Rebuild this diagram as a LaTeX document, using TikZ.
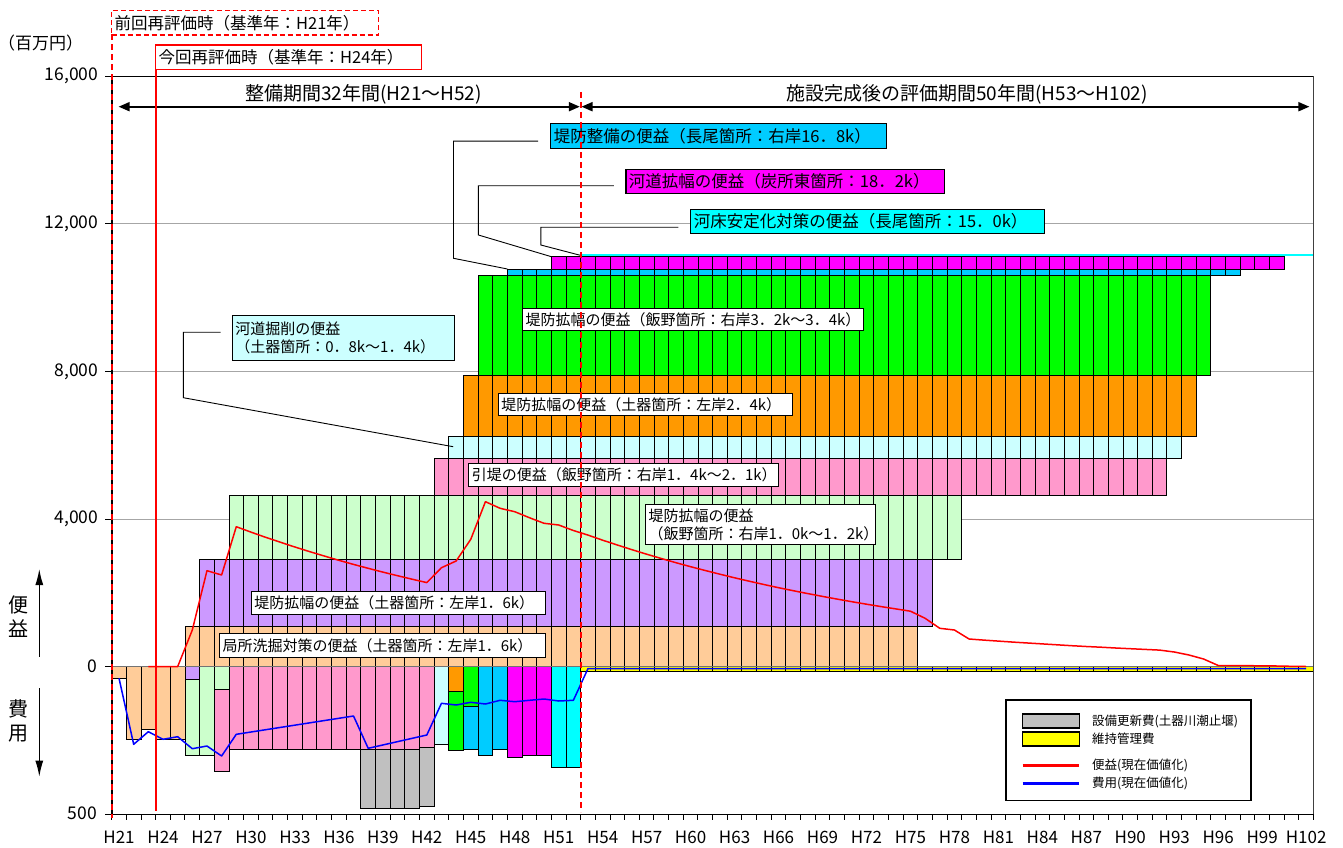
\documentclass[tikz,border=0pt]{standalone}
\usepackage{fontspec}
\setmainfont{Noto Sans CJK JP}
\usepackage{tikz}
\usetikzlibrary{arrows.meta,calc}

\definecolor{peach}{HTML}{FFCC99}
\definecolor{lilac}{HTML}{CC99FF}
\definecolor{lgreen}{HTML}{CCFFCC}
\definecolor{pinkb}{HTML}{FF99CC}
\definecolor{lcyan}{HTML}{CCFFFF}
\definecolor{orangeb}{HTML}{FF9900}
\definecolor{greenb}{HTML}{00FF00}
\definecolor{skyb}{HTML}{00CCFF}
\definecolor{magb}{HTML}{FF00FF}
\definecolor{cyanb}{HTML}{00FFFF}
\definecolor{greyb}{HTML}{C0C0C0}
\definecolor{yellowb}{HTML}{FFFF00}
\definecolor{benefitred}{HTML}{FF0000}
\definecolor{costblue}{HTML}{0000FF}
\definecolor{gridgray}{HTML}{A6A6A6}

% one row of yearly bars (x = year index, H21 = 0)
\newcommand{\barlayer}[5]{%
  \foreach \i in {#2,...,#3}{\filldraw[bar,fill=#1] (\i,#4) rectangle (\i+1,#5);}}

\tikzset{
  years/.style={shift={(111.7,0)}, x=14.656pt},
  bar/.style={draw=black, line width=0.9pt},
  gridline/.style={draw=gridgray, line width=0.9pt},
  axisline/.style={draw=black, line width=1.4pt},
  callout/.style={draw=black, fill=white, line width=1.1pt, anchor=north west,
    inner xsep=3pt, inner ysep=0pt, align=left, font=\fontsize{15}{18}\selectfont},
  bigcallout/.style={callout, font=\fontsize{16.5}{19}\selectfont},
  stampbox/.style={draw=benefitred, fill=white, line width=1.3pt, anchor=north west,
    inner xsep=3pt, inner ysep=0pt, align=left, font=\fontsize{16.5}{19}\selectfont},
  leader/.style={draw=black, line width=0.9pt},
  period/.style={line width=1.8pt, {Triangle[length=11pt,width=9pt]}-{Triangle[length=11pt,width=9pt]}},
  periodlabel/.style={inner sep=0pt, font=\fontsize{19}{22}\selectfont},
  benefitpv/.style={draw=benefitred, line width=1.5pt, line join=round},
  costpv/.style={draw=costblue, line width=1.5pt, line join=round},
  yearlabel/.style={inner sep=0pt, font=\fontsize{17}{19}\selectfont},
  valuelabel/.style={anchor=east, inner sep=0pt, font=\fontsize{17.5}{19}\selectfont},
  sidelabel/.style={inner sep=0pt, align=center, font=\fontsize{20}{23.5}\selectfont},
  sidearrow/.style={line width=1.3pt, -{Latex[length=16pt,width=8pt]}},
  legtext/.style={anchor=west, inner sep=0pt, font=\fontsize{12.5}{15}\selectfont}
}

\begin{document}
\begin{tikzpicture}[x=1pt, y=-1pt]
  \useasboundingbox (0,0) rectangle (1343,848);

  % Grid
  \foreach \gy in {223.9,371.5,519.1} \draw[gridline] (112,\gy) -- (1313.5,\gy);

  % Bars
  \begin{scope}[years]
    % benefits
    \barlayer{peach}{5}{54}{626}{666.7}
    \barlayer{lilac}{6}{55}{559}{626}
    \barlayer{lgreen}{8}{57}{495.7}{559}
    \barlayer{pinkb}{22}{71}{458.7}{495.7}
    \barlayer{lcyan}{23}{72}{436.7}{458.7}
    \barlayer{orangeb}{24}{73}{375}{436.7}
    \barlayer{greenb}{25}{74}{275.7}{375}
    \barlayer{skyb}{27}{76}{269}{275.7}
    \barlayer{magb}{30}{79}{256.7}{269}
    \fill[cyanb] (32,254.4) rectangle (82,256.4);
    % costs
    \barlayer{peach}{0}{0}{666.7}{678.3}
    \barlayer{peach}{1}{1}{666.7}{739.3}
    \barlayer{peach}{2}{2}{666.7}{729.3}
    \barlayer{peach}{3}{4}{666.7}{739.3}
    \barlayer{lilac}{5}{5}{666.7}{679}
    \barlayer{lgreen}{5}{5}{679}{755.7}
    \barlayer{lgreen}{6}{6}{666.7}{755.7}
    \barlayer{lgreen}{7}{7}{666.7}{689}
    \barlayer{pinkb}{7}{7}{689}{771.3}
    \barlayer{pinkb}{8}{20}{666.7}{749}
    \barlayer{greyb}{17}{20}{749}{808.3}
    \barlayer{pinkb}{21}{21}{666.7}{747.3}
    \barlayer{greyb}{21}{21}{747.3}{806.3}
    \barlayer{lcyan}{22}{22}{666.7}{744.7}
    \barlayer{orangeb}{23}{23}{666.7}{691.7}
    \barlayer{greenb}{23}{23}{691.7}{750.7}
    \barlayer{greenb}{24}{24}{666.7}{706}
    \barlayer{skyb}{24}{24}{706}{749}
    \barlayer{skyb}{25}{25}{666.7}{755.3}
    \barlayer{skyb}{26}{26}{666.7}{749.7}
    \barlayer{magb}{27}{27}{666.7}{757}
    \barlayer{magb}{28}{29}{666.7}{755.7}
    \barlayer{cyanb}{30}{31}{666.7}{767.3}
    \barlayer{yellowb}{32}{81}{666.7}{671}
    % zero line
    \draw[draw=black!55, line width=1.4pt] (-0.46,666.7) -- (82,666.7);
    % x ticks and years
    \foreach \i in {0,...,82} \draw[black, line width=1pt] (\i,814.3) -- (\i,819.5);
    \foreach \i in {0,3,...,81}{
      \pgfmathtruncatemacro{\yr}{21+\i}
      \node[yearlabel] (yr\i) at (\i+0.5,837.7) {H\yr};}
    % corners the callouts point to
    \coordinate (skybTL) at (27,269);
    \coordinate (magTL) at (30,256.7);
    \coordinate (cyanTL) at (32,255.4);
    \coordinate (lcyanPt) at (23.3,446.7);
  \end{scope}

  % Frame and axes
  \draw[axisline] (112,76.3) -- (1313.5,76.3);
  \draw[draw=black!75, line width=1.6pt] (1313.5,76.3) -- (1313.5,814.3);
  \draw[axisline] (105,814.3) -- (1313.5,814.3);
  \draw[axisline] (112,76.3) -- (112,814.3);
  \foreach \gy in {76.3,223.9,371.5,519.1,666.7,814.3} \draw[black, line width=1pt] (105,\gy) -- (112,\gy);
  \node[valuelabel] (v16) at (98.5,76.3) {16,000};
  \node[valuelabel] (v12) at (98.5,223.9) {12,000};
  \node[valuelabel] (v8) at (98.5,371.5) {8,000};
  \node[valuelabel] (v4) at (98.5,519.1) {4,000};
  \node[valuelabel] (v0) at (97,666.7) {0};
  \node[valuelabel] (v500) at (97,813.3) {500};
  \node[anchor=west, inner sep=0pt, font=\fontsize{17}{19}\selectfont] (unit) at (-2,42.7) {（百万円）};

  % Benefit / cost side marks
  \node[sidelabel] (benlabel) at (18.3,616.5) {便\\益};
  \node[sidelabel] (costlabel) at (18.3,721) {費\\用};
  \draw[sidearrow] (39.3,656.7) -- (39.3,569);
  \draw[sidearrow] (39.3,688.3) -- (39.3,776.7);

  % Present values
  \begin{scope}[years]
    \draw[benefitpv] plot coordinates {(2.5,666.7) (3.5,666.7) (4.5,666.7) (5.5,630) (6.5,570.7) (7.5,575)
      (8.5,526.7) (9.5,532.1) (10.5,537.3) (11.5,542.2) (12.5,547.0) (13.5,551.6) (14.5,556.0)
      (15.5,560.3) (16.5,564.4) (17.5,568.3) (18.5,572.1) (19.5,575.7) (20.5,579.2) (21.5,582.6)
      (22.5,567.7) (23.5,561) (24.5,539.3) (25.5,501.7) (26.5,508.3) (27.5,511.7) (28.5,517.7)
      (29.5,523.3) (30.5,525) (31.5,530.5) (32.5,535.1) (33.5,540.2) (34.5,545.0) (35.5,549.7)
      (36.5,554.2) (37.5,558.5) (38.5,562.7) (39.5,566.7) (40.5,570.5) (41.5,574.2) (42.5,577.8)
      (43.5,581.2) (44.5,584.5) (45.5,587.7) (46.5,590.7) (47.5,593.6) (48.5,596.4) (49.5,599.1)
      (50.5,601.7) (51.5,604.2) (52.5,606.6) (53.5,608.9) (54.5,611.2) (55.5,618.3) (56.5,628.3)
      (57.5,630) (58.5,639) (59.5,640.1) (60.5,641.1) (61.5,642.1) (62.5,643.0) (63.5,643.9)
      (64.5,644.8) (65.5,645.7) (66.5,646.5) (67.5,647.2) (68.5,648.0) (69.5,648.7) (70.5,649.4)
      (71.5,650.1) (72.5,652) (73.5,655) (74.5,659) (75.5,665.5) (76.5,665.6) (77.5,665.7)
      (78.5,665.8) (79.5,666) (80.5,666.3) (81.5,666.5)};
    \draw[costpv] plot coordinates {(0.5,678.3) (1.5,744.3) (2.5,731.7) (3.5,739.3) (4.5,736.7)
      (5.5,748.7) (6.5,746) (7.5,756) (8.5,734.3) (16.5,716) (17.5,748.3) (21.5,735) (22.5,703.3)
      (23.5,705) (24.5,702.3) (25.5,704) (26.5,700.3) (27.5,701.7) (28.5,700.3) (29.5,699)
      (30.5,701) (31.5,700.3) (32.5,668.5) (81.5,668.5)};
  \end{scope}

  % Callouts
  \node[bigcallout, fill=skyb, text width=330pt, minimum height=25.6pt] (seibi) at (550.2,122.7) {堤防整備の便益（長尾箇所：右岸16．8k）};
  \node[bigcallout, fill=magb, text width=312.5pt, minimum height=24.3pt] (kakufuku) at (625.4,169) {河道拡幅の便益（炭所東箇所：18．2k）};
  \node[bigcallout, fill=cyanb, text width=347.8pt, minimum height=24.6pt] (anteika) at (690.3,208.7) {河床安定化対策の便益（長尾箇所：15．0k）};
  \node[callout, fill=lcyan, text width=216.6pt, minimum height=45pt] (kussaku) at (231.7,315) {河道掘削の便益\\（土器箇所：0．8k～1．4k）};
  \node[callout, text width=335.3pt, minimum height=21.7pt] (iino32) at (522,308.3) {堤防拡幅の便益（飯野箇所：右岸3．2k～3．4k）};
  \node[callout, text width=288.6pt, minimum height=21.7pt] (doki24) at (497.7,393.3) {堤防拡幅の便益（土器箇所：左岸2．4k）};
  \node[callout, text width=303.4pt, minimum height=23pt] (hikitei) at (468.3,462.7) {引堤の便益（飯野箇所：右岸1．4k～2．1k）};
  \node[callout, text width=224pt, minimum height=40pt] (iino10) at (645,504.3) {堤防拡幅の便益\\（飯野箇所：右岸1．0k～1．2k）};
  \node[callout, text width=288.3pt, minimum height=23pt] (doki16) at (250.7,591) {堤防拡幅の便益（土器箇所：左岸1．6k）};
  \node[callout, text width=320pt, minimum height=23.4pt] (kyokusho) at (219,633.3) {局所洗掘対策の便益（土器箇所：左岸1．6k）};

  % Leaders
  \draw[leader] ([xshift=-12pt,yshift=-5pt]seibi.west) -| (453.5,258.3) -- (skybTL);
  \draw[leader] ([xshift=-11.5pt,yshift=-4pt]kakufuku.west) -| (478.4,235) -- (magTL);
  \draw[leader] ([xshift=-12pt,yshift=-5.7pt]anteika.west) -| (540.8,245) -- (cyanTL);
  \draw[leader] ([xshift=-11pt,yshift=5.8pt]kussaku.west) -| (183.3,397.7) -- (lcyanPt);

  % Evaluation periods
  \coordinate (devL) at (118.6,106.7);
  \coordinate (devR) at (579.8,106.7);
  \coordinate (evalL) at (581.5,106.7);
  \coordinate (evalR) at (1309.4,106.7);
  \draw[period] (devL) -- (devR);
  \draw[period] (evalL) -- (evalR);
  \node[periodlabel] (devlabel) at (363.5,94) {整備期間32年間(H21～H52)};
  \node[periodlabel] (evallabel) at (967,94) {施設完成後の評価期間50年間(H53～H102)};

  % Re-evaluation years
  \node[stampbox, dash pattern=on 5pt off 3pt, text width=261pt, minimum height=24.3pt] (zenkai) at (111,10) {前回再評価時（基準年：H21年）};
  \node[stampbox, text width=260pt, minimum height=24.7pt] (konkai) at (155,44.3) {今回再評価時（基準年：H24年）};
  \draw[benefitred, line width=2.5pt] (156,69) -- (156,810.7);
  \draw[benefitred, line width=1.8pt, dash pattern=on 6pt off 4pt] (112,34.3) -- (112,818);
  \draw[benefitred, line width=1.8pt, dash pattern=on 6pt off 4pt] (580.8,92) -- (580.8,812);

  % Legend
  \draw[black, fill=white, line width=1.4pt] (1006,700) rectangle (1251,800.7);
  \filldraw[fill=greyb, line width=1.2pt] (1022.7,714) rectangle (1079.3,728);
  \node[legtext] (legrenew) at (1092,721) {設備更新費(土器川潮止堰)};
  \filldraw[fill=yellowb, line width=1.2pt] (1022.7,732) rectangle (1079.3,746);
  \node[legtext] (legmaint) at (1092,739) {維持管理費};
  \draw[benefitred, line width=2.8pt] (1022.7,765.3) -- (1079.3,765.3);
  \node[legtext] (legben) at (1092,765.3) {便益(現在価値化)};
  \draw[costblue, line width=2.8pt] (1022.7,783.3) -- (1079.3,783.3);
  \node[legtext] (legcost) at (1092,783.3) {費用(現在価値化)};
\end{tikzpicture}
\end{document}
